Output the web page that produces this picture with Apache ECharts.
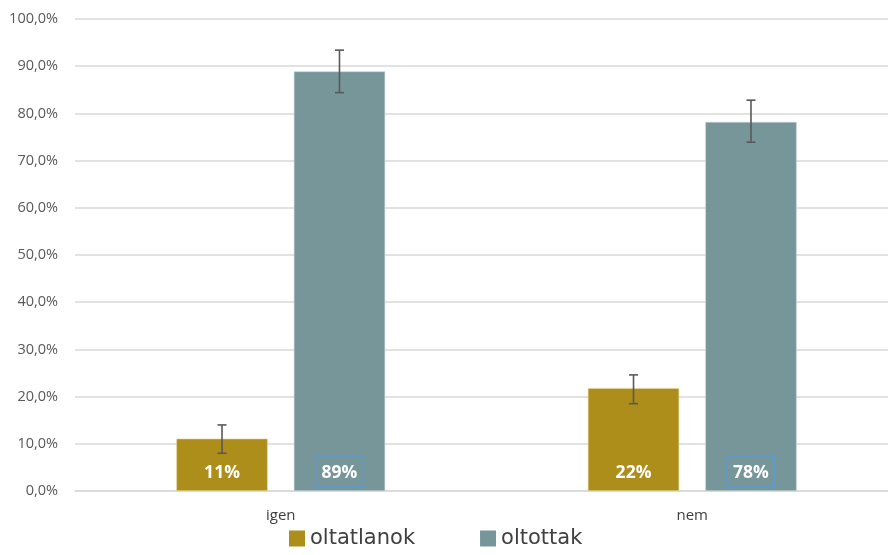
<!DOCTYPE html>
<html>
<head>
<meta charset="utf-8">
<script src="https://cdn.jsdelivr.net/npm/echarts@6/dist/echarts.min.js"></script>
<style>html,body{margin:0;padding:0;background:#fff;}#c{width:888px;height:555px;}</style>
</head>
<body>
<div id="c"></div>
<script>
var categories = ['igen', 'nem'];
var seriesNames = ['oltatlanok', 'oltottak'];
var oltatlanok = [11.1, 21.8];
var oltottak = [88.9, 78.2];
var oltatlanokErrLow = [8.0, 18.5];
var oltatlanokErrHigh = [14.0, 24.6];
var oltottakErrLow = [84.4, 73.9];
var oltottakErrHigh = [93.4, 82.8];
var yTicks = [0, 10, 20, 30, 40, 50, 60, 70, 80, 90, 100];

var BAR_W = 0.222, GAP = 0.286;
var colors = ['#AD8E1B', '#77969A'];

function errSeries(idx, low, high) {
  var data = categories.map(function (c, i) { return [i, low[i], high[i]]; });
  return {
    type: 'custom',
    name: seriesNames[idx] + ' err',
    data: data,
    z: 10,
    silent: true,
    renderItem: function (params, api) {
      var ci = api.value(0);
      var band = api.size([1, 0])[0];
      var bw = band * BAR_W;
      var off = (bw + bw * GAP) / 2 * (idx === 0 ? -1 : 1);
      var pLow = api.coord([ci, api.value(1)]);
      var pHigh = api.coord([ci, api.value(2)]);
      var x = pLow[0] + off;
      var cap = 4.5;
      var st = { stroke: '#595959', lineWidth: 1.6 };
      return {
        type: 'group',
        children: [
          { type: 'line', shape: { x1: x, y1: pLow[1], x2: x, y2: pHigh[1] }, style: st },
          { type: 'line', shape: { x1: x - cap, y1: pLow[1], x2: x + cap, y2: pLow[1] }, style: st },
          { type: 'line', shape: { x1: x - cap, y1: pHigh[1], x2: x + cap, y2: pHigh[1] }, style: st }
        ]
      };
    }
  };
}

var labelBase = {
  show: true,
  position: 'insideBottom',
  distance: 4,
  color: '#fff',
  fontWeight: 'bold',
  fontSize: 17.5,
  fontFamily: 'Open Sans',
  padding: [7, 6, 5, 6],
  formatter: function (p) { return Math.round(p.value) + '%'; }
};

var chart = echarts.init(document.getElementById('c'));
chart.setOption({
  animation: false,
  grid: { left: 75, width: 823, top: 19, bottom: 64, outerBoundsMode: 'none', containLabel: false },
  legend: {
    data: seriesNames,
    left: 284,
    bottom: 1,
    itemWidth: 16,
    itemHeight: 16,
    itemGap: 65,
    icon: 'rect',
    itemStyle: { borderWidth: 0 },
    textStyle: { fontSize: 21, color: '#404040', fontFamily: 'DejaVu Sans' }
  },
  xAxis: {
    type: 'category',
    data: categories,
    axisLine: { show: true, lineStyle: { color: '#D9D9D9', width: 1.5 } },
    axisTick: { show: false },
    axisLabel: { fontSize: 15, color: '#404040', margin: 17, fontFamily: 'Open Sans' }
  },
  yAxis: {
    type: 'value',
    min: 0,
    max: 100,
    interval: 10,
    axisLine: { show: false },
    axisTick: { show: false },
    splitLine: { lineStyle: { color: '#D9D9D9', width: 1.5 } },
    axisLabel: {
      fontSize: 14.5,
      color: '#595959',
      margin: 17,
      fontFamily: 'Open Sans',
      formatter: function (v) { return yTicks.indexOf(v) >= 0 ? v.toFixed(1).replace('.', ',') + '%' : ''; }
    }
  },
  series: [
    {
      name: seriesNames[0],
      type: 'bar',
      data: oltatlanok,
      barWidth: (BAR_W * 100) + '%',
      barGap: (GAP * 100) + '%',
      itemStyle: { color: colors[0], borderColor: '#E8D9A0', borderWidth: 0.6 },
      label: labelBase
    },
    {
      name: seriesNames[1],
      type: 'bar',
      data: oltottak,
      barWidth: (BAR_W * 100) + '%',
      itemStyle: { color: colors[1], borderColor: '#C8D6D8', borderWidth: 0.6 },
      label: Object.assign({}, labelBase, { borderColor: '#5B9BD5', borderWidth: 1.5 })
    },
    errSeries(0, oltatlanokErrLow, oltatlanokErrHigh),
    errSeries(1, oltottakErrLow, oltottakErrHigh)
  ]
});
</script>
</body>
</html>
